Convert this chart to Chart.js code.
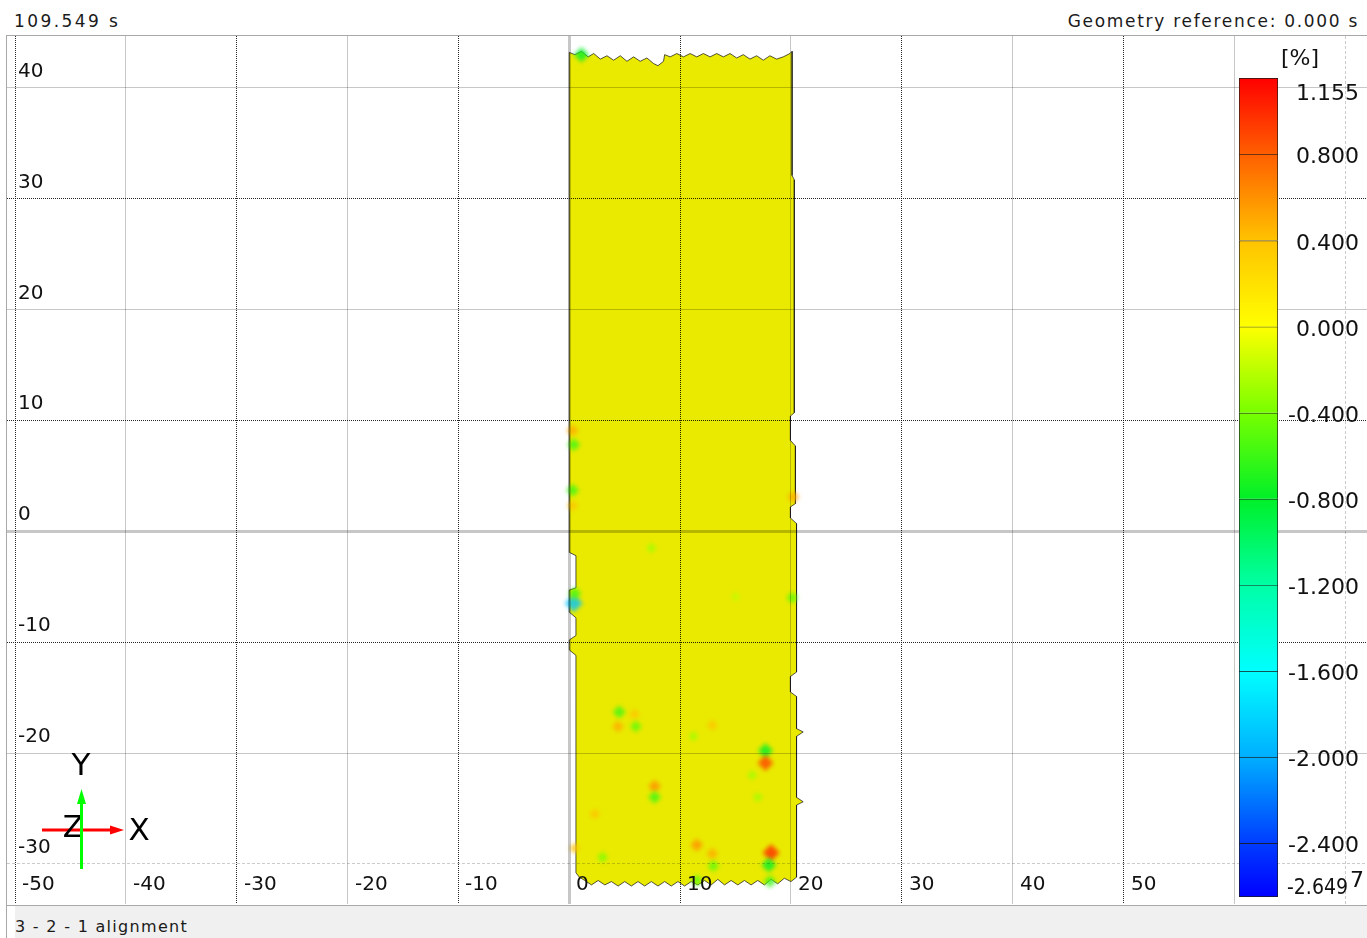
<!DOCTYPE html>
<html>
<head>
<meta charset="utf-8">
<script src="https://cdn.jsdelivr.net/npm/chart.js@4.4.1/dist/chart.umd.min.js"></script>
<style>
  html, body { margin: 0; padding: 0; background: #fff; }
  body { width: 1367px; height: 938px; position: relative; overflow: hidden; font-family: "DejaVu Sans", sans-serif; color: #1a1a1a; }
  #time { position: absolute; left: 14px; top: 11px; font-size: 17px; line-height: 20px; letter-spacing: 2.4px; }
  #georef { position: absolute; right: 8px; top: 11px; font-size: 17px; line-height: 20px; letter-spacing: 1.7px; }
  #frame { position: absolute; left: 6px; top: 35px; width: 1361px; height: 869px; border-top: 1px solid #a8a8a8; border-bottom: 1px solid #a8a8a8; border-left: 1px solid #a8a8a8; }
  #leftline { position: absolute; left: 6px; top: 905px; width: 1px; height: 33px; background: #a8a8a8; }
  #plot { position: absolute; left: 7px; top: 36px; }
  #cb { position: absolute; left: 1230px; top: 36px; }
  #status { position: absolute; left: 15px; top: 906px; right: 0; bottom: 0; background: #f0f0f0; font-size: 16px; line-height: 20px; letter-spacing: 1.3px; padding-top: 11px; box-sizing: border-box; }
</style>
</head>
<body>
<div id="time">109.549 s</div>
<div id="georef">Geometry reference: 0.000 s</div>
<div id="frame"></div>
<div id="leftline"></div>
<canvas id="plot" width="1360" height="868"></canvas>
<canvas id="cb" width="137" height="868"></canvas>
<div id="status">3 - 2 - 1 alignment</div>
<script>
// axis ticks
const xTicks = [-50, -40, -30, -20, -10, 0, 10, 20, 30, 40, 50, 60, 70];
const xTickLabels = ['-50', '-40', '-30', '-20', '-10', '0', '10', '20', '30', '40', '50', '', ''];
const yTicks = [40, 30, 20, 10, 0, -10, -20, -30];
const yTickLabels = ['40', '30', '20', '10', '0', '-10', '-20', '-30'];

// outline of the measured strip (mm), clockwise from top-left
const stripX = [
    0.0, 0.5, 1.1, 1.7, 2.2, 2.8, 3.4, 4.0, 4.6, 5.2, 5.8, 6.4, 7.0, 7.6, 8.0, 8.5, 8.6, 9.1, 9.7, 10.3,
    10.9, 11.5, 12.1, 12.7, 13.3, 13.9, 14.5, 15.1, 15.7, 16.3, 16.9, 17.5, 18.1, 18.7, 19.3, 19.9, 20.1,
    20.1, 20.3, 20.3, 19.95, 19.95, 20.4, 20.4, 19.95, 19.95, 20.5, 20.5, 19.95, 19.95, 20.5, 20.5, 21.1, 20.5,
    20.5, 21.1, 20.5, 20.5,
    20.0, 19.4, 18.8, 18.2, 17.6, 17.0, 16.4, 15.8, 15.2, 14.6, 14.0, 13.4, 12.8, 12.2, 11.6, 11.0, 10.4,
    9.8, 9.2, 8.6, 8.0, 7.4, 6.8, 6.2, 5.6, 5.0, 4.4, 3.8, 3.2, 2.6, 2.0, 1.4, 0.9, 0.6,
    0.6, 0.0, 0.0, 0.6, 0.6, 0.0, 0.0, 0.6, 0.6, 0.0, 0.0
];
const stripY = [
    43.2, 43.0, 43.3, 42.8, 43.1, 42.6, 42.9, 42.5, 42.9, 42.4, 42.8, 42.4, 42.7, 42.2, 42.0, 42.4, 43.0, 42.8, 43.1, 42.8,
    43.1, 42.8, 43.1, 42.8, 43.1, 42.8, 43.1, 42.7, 43.0, 42.6, 42.9, 42.5, 42.9, 42.6, 42.8, 43.1, 43.3,
    32.1, 31.7, 10.7, 10.4, 8.2, 7.7, 2.5, 2.2, 1.2, 0.7, -12.7, -13.1, -14.5, -14.9, -17.8, -18.1, -18.5,
    -24.0, -24.4, -24.7, -31.2,
    -31.6, -31.3, -31.8, -31.4, -31.9, -31.5, -31.9, -31.5, -31.9, -31.5, -31.9, -31.4, -31.9, -31.5, -31.9, -31.6, -32.0,
    -31.6, -32.0, -31.6, -32.0, -31.6, -32.0, -31.6, -32.0, -31.6, -32.0, -31.6, -31.9, -31.5, -31.9, -31.5, -31.2, -30.8,
    -11.2, -10.7, -9.8, -9.4, -7.8, -7.3, -5.3, -5.1, -2.2, -1.9, 43.2
];

// local deviations [%] on the strip
const spotX = [1.1, 0.3, 0.4, 0.3, 0.3, 20.2, 7.4, 0.4, 0.5, 20.1, 15.0, 4.5, 5.9, 4.4, 6.0, 12.9, 11.2,
    17.7, 17.7, 16.5, 7.7, 7.7, 17.0, 2.3, 11.5, 12.9, 13.0, 18.2, 18.0, 3.0, 11.5, 18.1, 0.5];
const spotY = [43.0, 9.1, 7.8, 3.7, 2.3, 3.1, -1.5, -6.5, -5.6, -6.0, -5.9, -16.3, -16.5, -17.6, -17.6, -17.5, -18.5,
    -19.8, -20.9, -22.0, -23.0, -24.0, -24.0, -25.5, -28.3, -29.1, -30.2, -29.0, -30.1, -29.4, -31.5, -31.6, -28.6];
const spotVal = [-0.8, 0.5, -0.6, -0.6, 0.4, 0.5, -0.3, -1.9, -0.6, -0.5, -0.2, -0.6, 0.4, 0.5, -0.5, 0.4, -0.3,
    -0.8, 0.9, -0.3, 0.6, -0.6, -0.3, 0.4, 0.6, 0.5, -0.5, 1.0, -0.8, -0.4, -0.5, -0.6, 0.4];

// colour scale
const cbLevels = [1.155, 0.8, 0.4, 0.0, -0.4, -0.8, -1.2, -1.6, -2.0, -2.4, -2.6497];
const cbLabels = ['1.155', '0.800', '0.400', '0.000', '-0.400', '-0.800', '-1.200', '-1.600', '-2.000', '-2.400', '-2.6497'];
const cbColors = [[255, 0, 0], [255, 95, 0], [255, 195, 0], [255, 255, 0], [120, 255, 0], [0, 240, 40],
    [0, 255, 165], [0, 255, 255], [0, 175, 255], [0, 60, 255], [0, 0, 255]];

var colorFor = (v, alpha) => {
    let a = alpha === undefined ? 1 : alpha;
    if (v >= cbLevels[0]) return `rgba(${cbColors[0].join(',')},${a})`;
    for (let i = 0; i < cbLevels.length - 1; i++) {
        let hi = cbLevels[i], lo = cbLevels[i + 1];
        if (v <= hi && v >= lo) {
            let t = (hi - v) / (hi - lo);
            let c = cbColors[i].map((ch, k) => Math.round(ch + (cbColors[i + 1][k] - ch) * t));
            return `rgba(${c.join(',')},${a})`;
        }
    }
    return `rgba(${cbColors[cbColors.length - 1].join(',')},${a})`;
}

var gridColor = (v, faint) => {
    if (v === faint) return 'rgba(0,0,0,0.2)';
    if (Math.abs(v / 10) % 2 === 1) return 'rgba(0,0,0,0.85)';
    return 'rgba(0,0,0,0.22)';
}

var gridDash = (v, faint) => {
    if (v === faint) return [3, 2];
    if (Math.abs(v / 10) % 2 === 1) return [1, 1];
    return [];
}

var toPoints = (xs, ys) => xs.map((x, i) => ({ x: x, y: ys[i] }));

const blurSpots = {
    id: 'blurSpots',
    beforeDatasetDraw(chart, args) {
        if (args.index === 1) {
            chart.ctx.save();
            chart.ctx.filter = 'blur(2px)';
        }
    },
    afterDatasetDraw(chart, args) {
        if (args.index === 1) chart.ctx.restore();
    }
};

const axisLabels = {
    id: 'axisLabels',
    afterDraw(chart) {
        const { ctx, chartArea, scales: { x, y } } = chart;
        ctx.save();
        ctx.font = '20px "DejaVu Sans"';
        ctx.fillStyle = '#111';
        ctx.textAlign = 'left';
        ctx.textBaseline = 'alphabetic';
        xTicks.forEach((v, i) => {
            if (!xTickLabels[i]) return;
            ctx.fillText(xTickLabels[i], Math.round(x.getPixelForValue(v)) + 7, chartArea.bottom - 14);
        });
        yTicks.forEach((v, i) => {
            ctx.fillText(yTickLabels[i], chartArea.left + 11, Math.round(y.getPixelForValue(v)) - 11);
        });

        // coordinate triad, bottom left
        ctx.lineWidth = 3;
        ctx.strokeStyle = '#ff0000';
        ctx.fillStyle = '#ff0000';
        ctx.beginPath(); ctx.moveTo(35, 794); ctx.lineTo(105, 794); ctx.stroke();
        ctx.beginPath(); ctx.moveTo(117, 794); ctx.lineTo(103, 789.5); ctx.lineTo(103, 798.5); ctx.closePath(); ctx.fill();

        ctx.fillStyle = '#000';
        ctx.textAlign = 'center';
        ctx.textBaseline = 'middle';
        ctx.font = '30px "DejaVu Sans"';
        ctx.fillText('Z', 66, 793);
        ctx.font = '31px "DejaVu Sans"';
        ctx.fillText('Y', 74, 731);
        ctx.fillText('X', 132, 796);

        ctx.strokeStyle = '#00ff00';
        ctx.fillStyle = '#00ff00';
        ctx.beginPath(); ctx.moveTo(74.5, 833); ctx.lineTo(74.5, 765); ctx.stroke();
        ctx.beginPath(); ctx.moveTo(74.5, 753); ctx.lineTo(70, 768); ctx.lineTo(79, 768); ctx.closePath(); ctx.fill();
        ctx.restore();
    }
};

window.onload = () => {
    const plotCtx = document.getElementById('plot').getContext('2d');
    new Chart(plotCtx, {
        type: 'scatter',
        data: {
            datasets: [{
                data: toPoints(stripX, stripY),
                order: 2,
                showLine: true,
                fill: 'shape',
                backgroundColor: 'rgb(234, 234, 0)',
                borderColor: 'rgba(30, 30, 30, 0.75)',
                borderWidth: 1,
                pointRadius: 0,
                tension: 0
            }, {
                data: toPoints(spotX, spotY),
                order: 1,
                pointStyle: 'rectRot',
                pointRadius: spotVal.map(v => Math.min(9, 3.5 + 5 * Math.abs(v))),
                backgroundColor: spotVal.map(v => colorFor(v, 0.8)),
                borderWidth: 0
            }]
        },
        options: {
            responsive: false,
            animation: false,
            events: [],
            layout: { padding: 0, autoPadding: false },
            plugins: { legend: { display: false }, tooltip: { enabled: false } },
            scales: {
                x: {
                    type: 'linear',
                    min: -50.727,
                    max: 71.963,
                    afterBuildTicks: s => { s.ticks = xTicks.map(v => ({ value: v })); },
                    ticks: { display: false },
                    grid: {
                        z: 1,
                        drawTicks: false,
                        color: c => gridColor(c.tick.value, 70),
                        lineWidth: c => c.tick.value === 0 ? 3 : 1
                    },
                    border: { display: false, dash: c => gridDash(c.tick.value, 70) }
                },
                y: {
                    type: 'linear',
                    min: -33.622,
                    max: 44.682,
                    afterBuildTicks: s => { s.ticks = yTicks.map(v => ({ value: v })); },
                    ticks: { display: false },
                    grid: {
                        z: 1,
                        drawTicks: false,
                        color: c => gridColor(c.tick.value, -30),
                        lineWidth: c => c.tick.value === 0 ? 3 : 1
                    },
                    border: { display: false, dash: c => gridDash(c.tick.value, -30) }
                }
            }
        },
        plugins: [blurSpots, axisLabels]
    });

    // colour bar
    const segData = [];
    for (let i = 0; i < cbLevels.length - 1; i++) {
        segData.push({ hi: cbLevels[i], lo: cbLevels[i + 1] });
    }

    const cbText = {
        id: 'cbText',
        afterDraw(chart) {
            const { ctx, scales: { y } } = chart;
            ctx.save();
            ctx.font = '22px "DejaVu Sans"';
            ctx.fillStyle = '#111';
            ctx.textBaseline = 'alphabetic';
            ctx.textAlign = 'right';
            const last = cbLevels.length - 1;
            cbLevels.forEach((v, i) => {
                let py = Math.round(y.getPixelForValue(v));
                if (i === 0) {
                    ctx.fillText(cbLabels[i], 129, py + 22);
                } else if (i === last) {
                    // the min label is squeezed, its last digit sits higher
                    let txt = cbLabels[i];
                    ctx.textAlign = 'left';
                    ctx.fillText(txt.slice(0, -1), 57, py - 3, 61);
                    ctx.fillText(txt.slice(-1), 120, py - 10);
                    ctx.textAlign = 'right';
                } else {
                    ctx.fillText(cbLabels[i], 129, py + 9);
                }
            });
            ctx.textAlign = 'center';
            ctx.textBaseline = 'middle';
            ctx.fillText('[%]', 70, 23);
            ctx.restore();
        }
    };

    const cbCtx = document.getElementById('cb').getContext('2d');
    new Chart(cbCtx, {
        type: 'bar',
        data: {
            labels: [''],
            datasets: segData.map((s, i) => ({
                data: [[s.lo, s.hi]],
                grouped: false,
                barPercentage: 1,
                categoryPercentage: 1,
                borderColor: '#1a1a1a',
                borderSkipped: false,
                borderWidth: { left: 1, right: 1, top: 1, bottom: i === segData.length - 1 ? 1 : 0 },
                backgroundColor: c => {
                    const chart = c.chart;
                    const yScale = chart.scales.y;
                    if (!chart.chartArea || !yScale) return colorFor((s.hi + s.lo) / 2);
                    const g = chart.ctx.createLinearGradient(0, yScale.getPixelForValue(s.hi), 0, yScale.getPixelForValue(s.lo));
                    g.addColorStop(0, colorFor(s.hi - 0.001));
                    g.addColorStop(1, colorFor(s.lo + 0.001));
                    return g;
                }
            }))
        },
        options: {
            responsive: false,
            animation: false,
            events: [],
            layout: { padding: { top: 42, bottom: 7, left: 9, right: 89 }, autoPadding: false },
            plugins: { legend: { display: false }, tooltip: { enabled: false } },
            scales: {
                x: { display: false },
                y: { display: false, min: cbLevels[cbLevels.length - 1], max: cbLevels[0] }
            }
        },
        plugins: [cbText]
    });
}
</script>
</body>
</html>
